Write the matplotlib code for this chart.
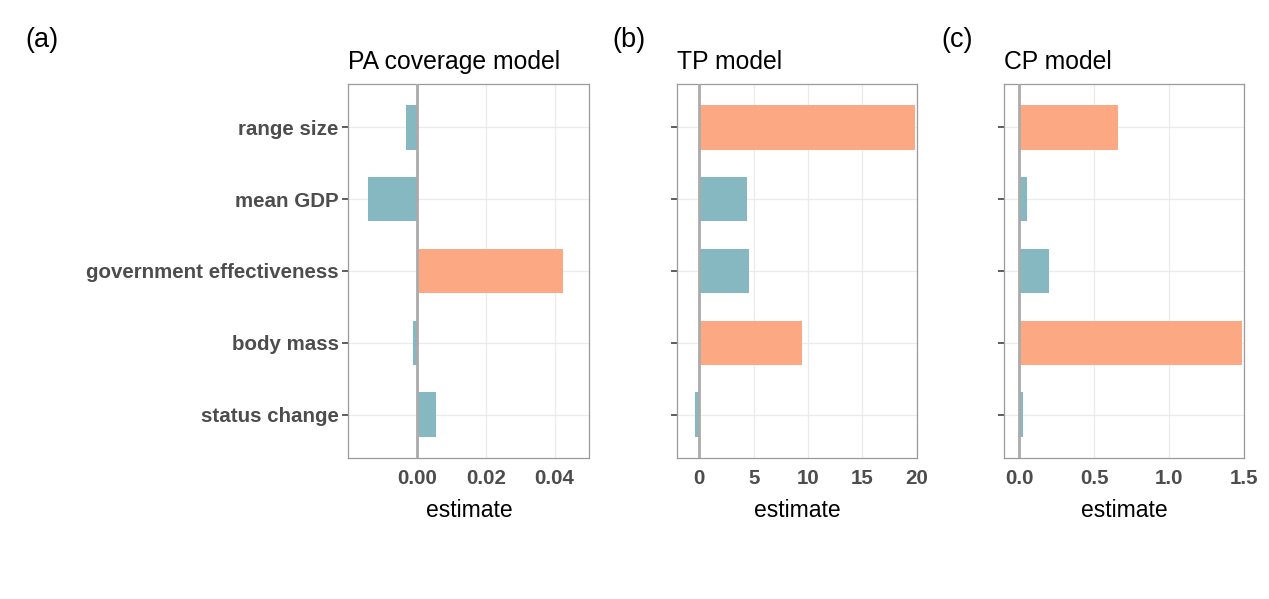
import matplotlib.pyplot as plt
import numpy as np

plt.rcParams['font.family'] = ['Liberation Sans', 'DejaVu Sans']

TEAL = '#86b8c1'
ORANGE = '#fca983'
LABEL_GREY = '#4d4d4d'

predictors = ['range size', 'mean GDP', 'government effectiveness', 'body mass', 'status change']

pa_estimate = [-0.0033, -0.0144, 0.0423, -0.0013, 0.0054]
tp_estimate = [19.85, 4.36, 4.57, 9.42, -0.42]
cp_estimate = [0.656, 0.051, 0.196, 1.483, 0.027]

# which bars are highlighted (orange) in each model
pa_highlight = [False, False, True, False, False]
tp_highlight = [True, False, False, True, False]
cp_highlight = [True, False, False, True, False]

pa_ticks = [0.00, 0.02, 0.04]
tp_ticks = [0, 5, 10, 15, 20]
cp_ticks = [0.0, 0.5, 1.0, 1.5]


def draw_panel(ax, values, highlight, ticks, tick_fmt, xlim, title, show_labels):
    y = np.arange(len(predictors))
    colors = [ORANGE if h else TEAL for h in highlight]
    ax.barh(y, values, height=0.62, color=colors, zorder=2)
    ax.axvline(0, color='#ababab', lw=2, zorder=3)
    ax.set_ylim(len(predictors) - 0.4, -0.6)
    ax.set_xlim(*xlim)
    ax.set_yticks(y)
    ax.set_yticklabels(predictors if show_labels else [])
    ax.set_xticks(ticks)
    ax.set_xticklabels([tick_fmt.format(t) for t in ticks])
    ax.grid(True, color='#ebebeb', lw=0.9, zorder=0)
    ax.set_axisbelow(True)
    for s in ax.spines.values():
        s.set_color('#9a9a9a')
        s.set_linewidth(0.9)
    ax.tick_params(axis='y', length=4, width=1.1, color='#333333', pad=3,
                   labelsize=14.8, labelcolor=LABEL_GREY)
    ax.tick_params(axis='x', length=0, pad=8, labelsize=14.8, labelcolor=LABEL_GREY)
    for lab in ax.get_xticklabels() + ax.get_yticklabels():
        lab.set_fontweight('bold')
    ax.set_xlabel('estimate', fontsize=16.5, labelpad=8)
    ax.set_title(title, loc='left', fontsize=17.8, pad=11)


fig = plt.figure(figsize=(12.69, 5.99), dpi=100)
ax_a = fig.add_axes([0.2745, 0.2359, 0.1899, 0.6234])
ax_b = fig.add_axes([0.5337, 0.2359, 0.1891, 0.6234])
ax_c = fig.add_axes([0.7914, 0.2359, 0.1891, 0.6234])

draw_panel(ax_a, pa_estimate, pa_highlight, pa_ticks, '{:.2f}', (-0.0201, 0.0501),
           'PA coverage model', True)
draw_panel(ax_b, tp_estimate, tp_highlight, tp_ticks, '{:d}', (-2.02, 20.05),
           'TP model', False)
draw_panel(ax_c, cp_estimate, cp_highlight, cp_ticks, '{:.1f}', (-0.1, 1.5),
           'CP model', False)

for letter, x in [('(a)', 25), ('(b)', 612), ('(c)', 941)]:
    fig.text(x / 1269, 1 - 40 / 599, letter, fontsize=19.5, va='center', ha='left')

fig.savefig('out.png', dpi=100)
